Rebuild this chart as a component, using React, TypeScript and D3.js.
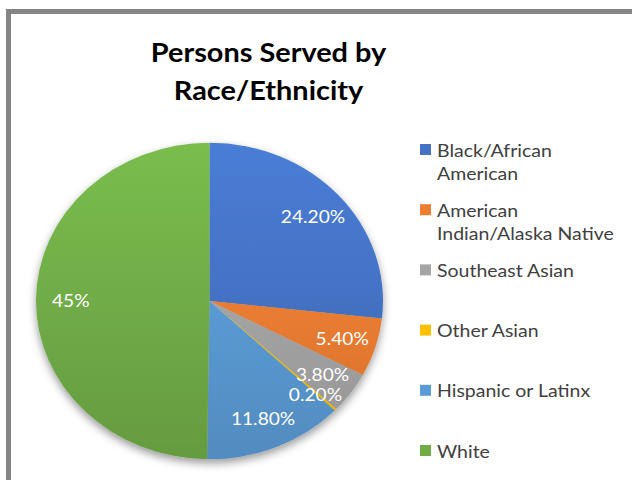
import React from "react";
import * as d3 from "d3";

const categories = [
  "Black/African American",
  "American Indian/Alaska Native",
  "Southeast Asian",
  "Other Asian",
  "Hispanic or Latinx",
  "White",
];
const legendLines = [
  ["Black/African", "American"],
  ["American", "Indian/Alaska Native"],
  ["Southeast Asian"],
  ["Other Asian"],
  ["Hispanic or Latinx"],
  ["White"],
];
const values = [24.2, 5.4, 3.8, 0.2, 11.8, 45];
const valueLabels = ["24.20%", "5.40%", "3.80%", "0.20%", "11.80%", "45%"];
const colors = ["#4472C4", "#ED7D31", "#A5A5A5", "#FFC000", "#5B9BD5", "#70AD47"];
const titleLines = ["Persons Served by", "Race/Ethnicity"];

const W = 632;
const H = 480;
const SX = 1.096; // horizontal stretch of the original picture
const FONT = "Lato, 'Open Sans', sans-serif";

export default function App() {
  const cx = 209.5;
  const cy = 301;
  const R = 158.3;
  const arcs = d3.pie<number>().sort(null).value((d) => d)(values);
  const arcGen = d3.arc<d3.PieArcDatum<number>>().innerRadius(0).outerRadius(R);
  const labelArc = d3
    .arc<d3.PieArcDatum<number>>()
    .innerRadius(R * 0.8)
    .outerRadius(R * 0.8);
  const smallLabelArc = d3
    .arc<d3.PieArcDatum<number>>()
    .innerRadius(R * 0.84)
    .outerRadius(R * 0.84);

  const legendX = 420;
  const legendTop = 150;
  const legendStep = 60.2;
  const lineH = 23;

  return (
    <svg
      width={W}
      height={H}
      style={{ position: "absolute", left: 0, top: 0, background: "#fff" }}
    >
      <defs>
        {colors.map((c, i) => {
          const col = d3.color(c)!;
          return (
            <linearGradient
              key={i}
              id={`g${i}`}
              gradientUnits="userSpaceOnUse"
              x1={0}
              y1={-R}
              x2={0}
              y2={R}
            >
              <stop offset="0%" stopColor={col.brighter(0.25).formatHex()} />
              <stop offset="100%" stopColor={col.darker(0.3).formatHex()} />
            </linearGradient>
          );
        })}
        <filter id="shadow" x="-20%" y="-20%" width="140%" height="140%">
          <feDropShadow dx="0" dy="4" stdDeviation="4" floodColor="#000" floodOpacity="0.4" />
        </filter>
      </defs>
      <rect x={0} y={0} width={W} height={H} fill="#fff" />
      {/* frame (cropped) */}
      <line x1={8.5} y1={11.5} x2={W} y2={11.5} stroke="#858585" strokeWidth={5} />
      <line x1={8.5} y1={9} x2={8.5} y2={H} stroke="#858585" strokeWidth={5} />

      {/* title */}
      {titleLines.map((t, i) => (
        <text
          key={i}
          transform={`translate(268.5,${62 + i * 38}) scale(1.05,1)`}
          textAnchor="middle"
          fontFamily={FONT}
          fontWeight="bold"
          fontSize={27.5}
          fill="#000"
        >
          {t}
        </text>
      ))}

      {/* pie */}
      <g transform={`translate(${cx},${cy}) scale(${SX},1)`}>
        <g filter="url(#shadow)">
          {arcs.map((a, i) => (
            <path key={i} d={arcGen(a) || ""} fill={`url(#g${i})`} />
          ))}
        </g>
      </g>
      {arcs.map((a, i) => {
        const gen = a.value < 1 ? smallLabelArc : labelArc;
        const [lx, ly] = gen.centroid(a);
        return (
          <text
            key={i}
            transform={`translate(${cx + lx * SX},${cy + ly + (a.value < 1 ? 2 : 0)}) scale(${SX},1)`}
            textAnchor="middle"
            dominantBaseline="central"
            fontFamily={FONT}
            fontSize={17.5}
            fill="#fff"
          >
            {valueLabels[i]}
          </text>
        );
      })}

      {/* legend */}
      {categories.map((c, i) => {
        const y = legendTop + i * legendStep;
        return (
          <g key={c}>
            <rect x={legendX} y={y - 6} width={11} height={11} fill={colors[i]} />
            {legendLines[i].map((ln, j) => (
              <text
                key={j}
                transform={`translate(${legendX + 17},${y + j * lineH}) scale(${SX},1)`}
                dominantBaseline="central"
                fontFamily={FONT}
                fontSize={17.8}
                fill="#404040"
              >
                {ln}
              </text>
            ))}
          </g>
        );
      })}
    </svg>
  );
}
